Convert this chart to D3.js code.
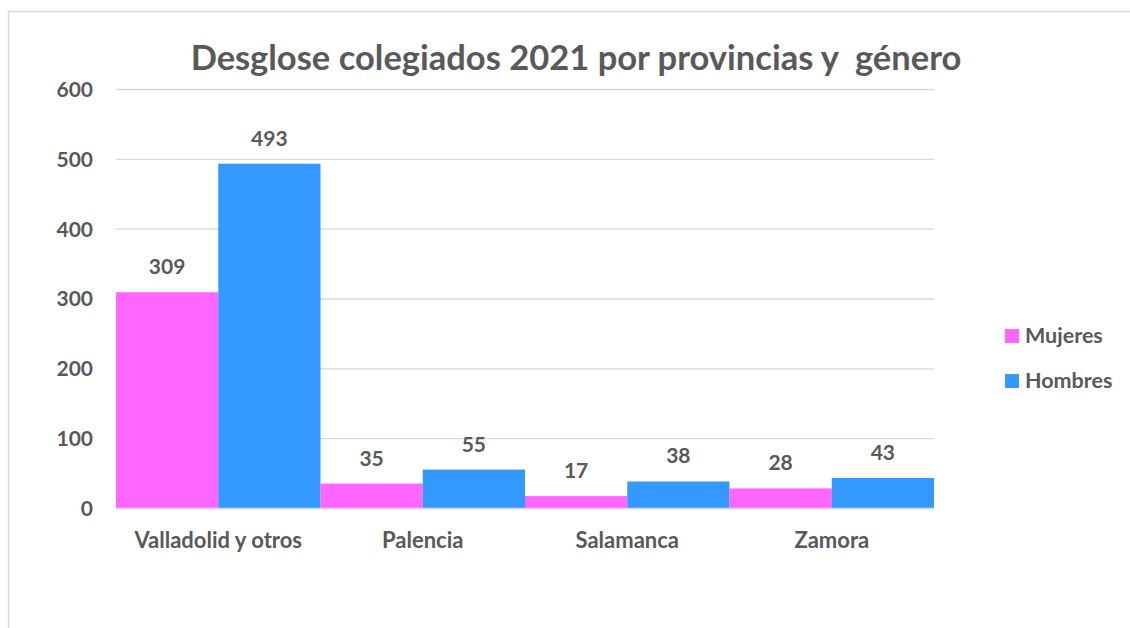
<!DOCTYPE html>
<html>
<head>
<meta charset="utf-8">
<script src="https://cdn.jsdelivr.net/npm/d3@7"></script>
<style>
  body { margin: 0; background: #fff; }
  svg text { font-family: Lato, "Open Sans", sans-serif; font-weight: bold; fill: #595959; }
</style>
</head>
<body>
<svg id="chart" width="1130" height="628"></svg>
<script>
// chart data
var provincias = ["Valladolid y otros", "Palencia", "Salamanca", "Zamora"];
var mujeres = [309, 35, 17, 28];
var hombres = [493, 55, 38, 43];
var series = ["Mujeres", "Hombres"];
var colores = ["#FF66FF", "#3399FF"];
var yTicks = [0, 100, 200, 300, 400, 500, 600];

window.onload = function() {
  makeChart();
};

function makeChart() {
  var svg = d3.select("#chart");

  // outer frame (right and bottom edges fall outside the picture)
  svg.append("rect")
    .attr("x", 8.5).attr("y", 11.5)
    .attr("width", 1140).attr("height", 640)
    .attr("fill", "none")
    .attr("stroke", "#D9D9D9")
    .attr("stroke-width", 1.5);

  var left = 116, right = 934, top = 89, bottom = 508;

  var x0 = d3.scaleBand()
    .domain(provincias)
    .range([left, right])
    .padding(0);

  var x1 = d3.scaleBand()
    .domain(series)
    .range([0, x0.bandwidth()])
    .padding(0);

  var y = d3.scaleLinear()
    .domain([0, 600])
    .range([bottom, top]);

  // gridlines + y labels
  var yAxis = d3.axisLeft(y)
    .tickValues(yTicks)
    .tickSize(-(right - left))
    .tickPadding(23);

  var gy = svg.append("g")
    .attr("transform", "translate(" + left + ",0)")
    .call(yAxis);
  gy.select(".domain").remove();
  gy.selectAll(".tick line").attr("stroke", "#D9D9D9").attr("stroke-width", 1.3);
  gy.selectAll(".tick text")
    .style("font-size", "21px")
    .attr("dy", "0.35em")
    .attr("fill", "#595959");

  // bars
  var groups = svg.append("g").selectAll("g")
    .data(provincias)
    .enter().append("g")
    .attr("transform", function(d) { return "translate(" + x0(d) + ",0)"; });

  var rows = function(d, i) {
    return [
      { serie: series[0], valor: mujeres[i], color: colores[0] },
      { serie: series[1], valor: hombres[i], color: colores[1] }
    ];
  };

  groups.selectAll("rect")
    .data(rows)
    .enter().append("rect")
    .attr("x", function(d) { return x1(d.serie); })
    .attr("y", function(d) { return y(d.valor); })
    .attr("width", x1.bandwidth())
    .attr("height", function(d) { return y(0) - y(d.valor); })
    .attr("fill", function(d) { return d.color; });

  groups.selectAll("text.val")
    .data(rows)
    .enter().append("text")
    .attr("class", "val")
    .attr("x", function(d) { return x1(d.serie) + x1.bandwidth() / 2; })
    .attr("y", function(d) { return y(d.valor) - 18; })
    .attr("text-anchor", "middle")
    .style("font-size", "21px")
    .text(function(d) { return d.valor; });

  // baseline
  svg.append("line")
    .attr("x1", left).attr("x2", right)
    .attr("y1", bottom + 0.5).attr("y2", bottom + 0.5)
    .attr("stroke", "#D9D9D9").attr("stroke-width", 1.3);

  // x labels
  var xAxis = d3.axisBottom(x0).tickSize(0).tickPadding(24);
  var gx = svg.append("g")
    .attr("transform", "translate(0," + bottom + ")")
    .call(xAxis);
  gx.select(".domain").remove();
  gx.selectAll(".tick text")
    .style("font-size", "22px")
    .attr("fill", "#595959");

  // title
  svg.append("text")
    .attr("x", 576).attr("y", 70)
    .attr("text-anchor", "middle")
    .style("font-size", "34.5px")
    .style("white-space", "pre")
    .attr("xml:space", "preserve")
    .text("Desglose colegiados 2021 por provincias y  género");

  // legend
  var legend = svg.append("g").selectAll("g")
    .data(series)
    .enter().append("g")
    .attr("transform", function(d, i) { return "translate(1005," + (329 + i * 45) + ")"; });

  legend.append("rect")
    .attr("width", 14).attr("height", 14)
    .attr("fill", function(d, i) { return colores[i]; });

  legend.append("text")
    .attr("x", 20).attr("y", 14)
    .style("font-size", "21.5px")
    .text(function(d) { return d; });
}
</script>
</body>
</html>
